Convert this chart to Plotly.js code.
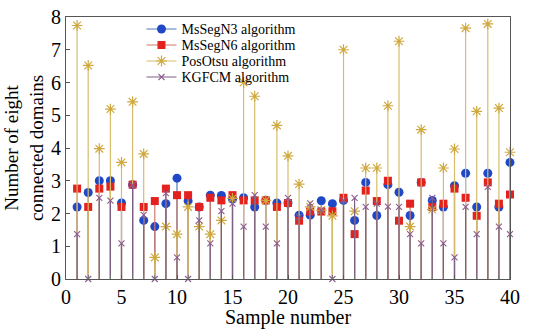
<!DOCTYPE html>
<html>
<head>
<meta charset="utf-8">
<script src="https://cdn.plot.ly/plotly-3.0.1.min.js"></script>
<style>html,body{margin:0;padding:0;background:#fff;}#chart{width:536px;height:329px;}</style>
</head>
<body>
<div id="chart"></div>
<script>
const samples = Array.from({length: 40}, (_, i) => i + 1);
const msSegN3 = [2.2, 2.64, 3.0, 3.0, 2.32, 2.88, 1.79, 1.6, 2.3, 3.08,
                 2.38, 2.2, 2.56, 2.55, 2.44, 2.48, 2.2, 2.4, 2.32, 2.32,
                 1.95, 1.95, 2.39, 2.3, 2.4, 1.79, 2.95, 1.94, 2.88, 2.65,
                 1.94, 2.95, 2.4, 2.2, 2.85, 3.23, 2.2, 3.23, 2.2, 3.56];
const msSegN6 = [2.76, 2.2, 2.76, 2.82, 2.2, 2.88, 2.2, 2.38, 2.76, 2.56,
                 2.56, 2.2, 2.48, 2.4, 2.56, 2.4, 2.4, 2.4, 2.2, 2.32,
                 1.78, 2.06, 2.06, 2.07, 2.48, 1.37, 2.7, 2.38, 3.0, 1.78,
                 2.3, 2.95, 2.2, 2.3, 2.76, 2.48, 1.93, 2.95, 2.3, 2.58];
const posOtsu = [7.74, 6.52, 3.98, 5.19, 3.56, 5.41, 3.82, 0.66, 1.6, 1.37,
                 2.2, 1.6, 1.37, 1.79, 2.46, 6.0, 5.58, 2.4, 4.69, 3.76,
                 2.9, 2.2, 2.1, 1.93, 7.0, 2.07, 3.39, 3.39, 5.29, 7.26,
                 1.6, 4.56, 2.12, 3.39, 3.97, 7.66, 5.12, 7.79, 5.22, 3.87];
const kgfcm = [1.37, 0, 2.48, 2.39, 1.09, 2.87, 1.96, 0, 2.62, 0.66,
               0, 1.79, 1.09, 2.07, 2.3, 1.6, 2.56, 1.6, 1.09, 2.48,
               1.9, 2.31, 2.1, 0, 2.4, 2.48, 2.2, 2.3, 2.21, 2.2,
               1.37, 1.09, 2.48, 1.09, 0.66, 2.2, 1.37, 2.81, 1.6, 1.37];
const seriesNames = ['MsSegN3 algorithm', 'MsSegN6 algorithm', 'PosOtsu algorithm', 'KGFCM algorithm'];
const xTickVals = [0, 5, 10, 15, 20, 25, 30, 35, 40];

const styles = [
  {stem: '#4f79bd', marker: {symbol: 'circle', size: 9, color: '#1f48c8', line: {width: 0}}},
  {stem: '#cf7a68', marker: {symbol: 'square', size: 8, color: '#e3211f', line: {width: 0}}},
  {stem: '#d5bd6c', marker: {symbol: 'asterisk-open', size: 9, color: '#cfa93e', line: {width: 1.2, color: '#cfa93e'}}},
  {stem: '#7d5f86', marker: {symbol: 'x-thin-open', size: 6, color: '#8d5b8f', line: {width: 1.1, color: '#8d5b8f'}}}
];
const allData = [msSegN3, msSegN6, posOtsu, kgfcm];

const traces = [];
allData.forEach((vals, k) => {
  const sx = [], sy = [];
  samples.forEach((s, i) => { sx.push(s, s, null); sy.push(0, vals[i], null); });
  traces.push({x: sx, y: sy, type: 'scatter', mode: 'lines', showlegend: false,
               line: {color: styles[k].stem, width: 1.2}, hoverinfo: 'skip'});
  traces.push({x: samples, y: vals, type: 'scatter', mode: 'markers', showlegend: false,
               marker: styles[k].marker, cliponaxis: false});
});
allData.forEach((vals, k) => {
  traces.push({x: [null], y: [null], type: 'scatter', mode: 'lines+markers', name: seriesNames[k],
               line: {color: styles[k].stem, width: 1.2}, marker: styles[k].marker});
});

const fam = 'Liberation Serif, Times New Roman, DejaVu Serif, serif';
const layout = {
  width: 536, height: 329,
  margin: {l: 66, r: 26, t: 17, b: 50},
  paper_bgcolor: '#fff', plot_bgcolor: '#fff',
  font: {family: fam, size: 18, color: '#000'},
  showlegend: true,
  legend: {x: 0.17, y: 1.0, xanchor: 'left', yanchor: 'top', bgcolor: 'rgba(0,0,0,0)',
           font: {family: fam, size: 14, color: '#000'}, tracegroupgap: 0, itemwidth: 30},
  xaxis: {range: [0, 40], tickvals: xTickVals, ticks: 'inside', ticklen: 4, tickcolor: '#555',
          minor: {dtick: 1, ticks: 'inside', ticklen: 4, tickcolor: '#777'},
          showline: true, linecolor: '#555', linewidth: 1, mirror: true, showgrid: false, zeroline: false,
          tickfont: {family: fam, size: 20, color: '#000'},
          title: {text: 'Sample number', font: {family: fam, size: 20, color: '#000'}, standoff: 0}},
  yaxis: {range: [0, 8], dtick: 1, ticks: 'inside', ticklen: 4, tickcolor: '#555',
          showline: true, linecolor: '#555', linewidth: 1, mirror: true, showgrid: false, zeroline: false,
          tickfont: {family: fam, size: 20, color: '#000'},
          title: {text: 'Number of eight<br>connected domains', font: {family: fam, size: 19, color: '#000'}, standoff: 2}}
};
Plotly.newPlot('chart', traces, layout, {displayModeBar: false, staticPlot: true}).then(gd => {
  // tighten the legend row spacing toward the reference
  const rows = gd.querySelectorAll('.legend .traces');
  rows.forEach((g, i) => {
    const m = /translate\(([-\d.]+)[ ,]+([-\d.]+)\)/.exec(g.getAttribute('transform') || '');
    if (m) g.setAttribute('transform', 'translate(' + m[1] + ',' + (12 + i * 16) + ')');
  });
});
</script>
</body>
</html>
